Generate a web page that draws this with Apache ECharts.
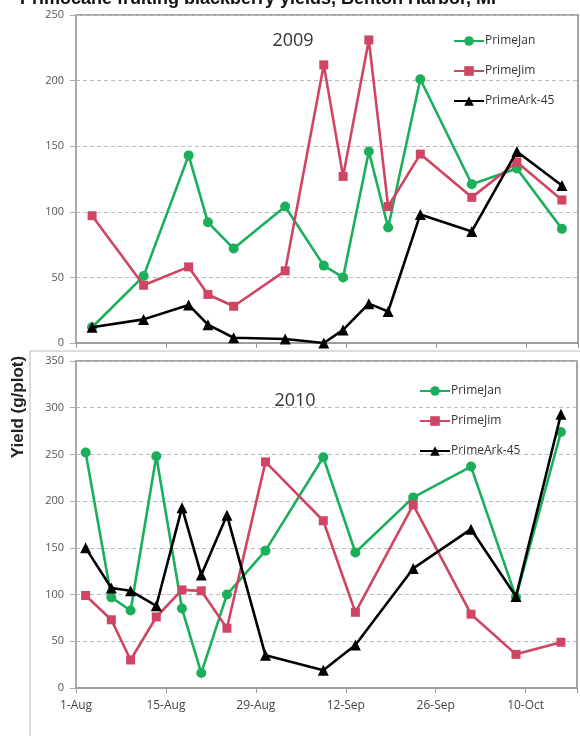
<!DOCTYPE html>
<html><head><meta charset="utf-8">
<script src="https://cdn.jsdelivr.net/npm/echarts@6/dist/echarts.min.js"></script>
<style>html,body{margin:0;padding:0;background:#fff;}#c{width:580px;height:736px;}</style>
</head><body><div id="c"></div>
<script>
const seriesNames = ['PrimeJan', 'PrimeJim', 'PrimeArk-45'];
const xTickLabels = ['1-Aug', '15-Aug', '29-Aug', '12-Sep', '26-Sep', '10-Oct'];
const yearLabels = ['2009', '2010'];

const dates2009 = ['Aug 3','Aug 11','Aug 18','Aug 21','Aug 25','Sep 2','Sep 8','Sep 11','Sep 15','Sep 18','Sep 23','Oct 1','Oct 8','Oct 15'];
const primeJan2009 = [12, 51, 143, 92, 72, 104, 59, 50, 146, 88, 201, 121, 133, 87];
const primeJim2009 = [97, 44, 58, 37, 28, 55, 212, 127, 231, 104, 144, 111, 138, 109];
const primeArk2009 = [12, 18, 29, 14, 4, 3, 0, 10, 30, 24, 98, 85, 146, 120];

const dates2010 = ['Aug 2','Aug 6','Aug 9','Aug 13','Aug 17','Aug 20','Aug 24','Aug 30','Sep 8','Sep 13','Sep 22','Oct 1','Oct 8','Oct 15'];
const primeJan2010 = [252, 97, 83, 248, 85, 16, 100, 147, 247, 145, 204, 237, 97, 274];
const primeJim2010 = [99, 73, 30, 76, 105, 104, 64, 242, 179, 81, 196, 79, 36, 49];
const primeArk2010 = [150, 107, 104, 88, 193, 121, 185, 35, 19, 46, 128, 170, 98, 293];

const MONTHS = {Aug: 7, Sep: 8, Oct: 9};
function dayPos(s) {
  const [m, d] = s.split(' ');
  const t = Date.UTC(2001, MONTHS[m], +d);
  const t0 = Date.UTC(2001, 7, 1);
  return (t - t0) / 864e5 + 0.5; // centre of the day slot
}
function pairs(dates, vals) { return dates.map((d, i) => [dayPos(d), vals[i]]); }

const COLORS = ['#1bae5b', '#cf4563', '#000000'];
const SYMBOLS = ['circle', 'rect', 'triangle'];
const SIZES = [10, 9, 11];
const FONT = 'Open Sans';

function mkSeries(idx, data, gi) {
  return {
    name: seriesNames[idx], type: 'line', xAxisIndex: gi, yAxisIndex: gi,
    data: data, symbol: SYMBOLS[idx], symbolSize: SIZES[idx],
    lineStyle: {color: COLORS[idx], width: 2.6},
    itemStyle: {color: COLORS[idx]},
    showAllSymbol: true, animation: false, z: 3 + idx
  };
}

function xAxis(gi, showLabels) {
  return {
    type: 'value', gridIndex: gi, min: 0, max: 78, interval: 14,
    axisLine: {show: true, lineStyle: {color: '#999', width: 1.5}},
    axisTick: {show: true, length: 5, lineStyle: {color: '#999'}},
    splitLine: {show: false},
    axisLabel: {show: showLabels, color: '#444', fontSize: 12, fontFamily: FONT, margin: 12,
      formatter: v => xTickLabels[Math.round(v / 14)] || ''}
  };
}
function yAxis(gi, max) {
  return {
    type: 'value', gridIndex: gi, min: 0, max: max, interval: 50,
    axisLine: {show: true, lineStyle: {color: '#aaa', width: 1.5}},
    axisTick: {show: true, inside: false, length: 6, lineStyle: {color: '#aaa'}},
    splitLine: {show: true, lineStyle: {color: '#bbb', type: [4, 3], width: 1}},
    axisLabel: {color: '#555', fontSize: 11, fontFamily: FONT, margin: 12}
  };
}
function legend(left, top) {
  return {
    left: left, top: top, orient: 'vertical', itemGap: 18, itemWidth: 30, itemHeight: 12,
    data: seriesNames.slice(),
    textStyle: {color: '#333', fontSize: 12, fontFamily: FONT, padding: [0, 0, 0, -4]},
    selectedMode: false
  };
}

const chart = echarts.init(document.getElementById('c'), null, {renderer: 'canvas'});
chart.setOption({
  animation: false,
  backgroundColor: '#fff',
  grid: [
    {left: 76, right: 2, top: 15, height: 328, show: true, borderColor: '#888', borderWidth: 1.5, backgroundColor: 'transparent'},
    {left: 76, right: 2, top: 361, height: 327, show: true, borderColor: '#888', borderWidth: 1.5, backgroundColor: 'transparent'}
  ],
  xAxis: [xAxis(0, false), xAxis(1, true)],
  yAxis: [yAxis(0, 250), yAxis(1, 350)],
  legend: [legend(448, 30), legend(414, 380)],
  series: [
    mkSeries(0, pairs(dates2009, primeJan2009), 0),
    mkSeries(1, pairs(dates2009, primeJim2009), 0),
    mkSeries(2, pairs(dates2009, primeArk2009), 0),
    mkSeries(0, pairs(dates2010, primeJan2010), 1),
    mkSeries(1, pairs(dates2010, primeJim2010), 1),
    mkSeries(2, pairs(dates2010, primeArk2010), 1)
  ],
  graphic: [
    {type: 'text', left: 20, top: -10, style: {text: 'Primocane fruiting blackberry yields, Benton Harbor, MI', font: 'bold 18px "Liberation Sans"', fill: '#111'}},
    {type: 'text', x: 293, y: 41, style: {text: yearLabels[0], font: '18px "Open Sans"', fill: '#333', align: 'center', verticalAlign: 'middle'}},
    {type: 'text', x: 295, y: 401, style: {text: yearLabels[1], font: '18px "Open Sans"', fill: '#333', align: 'center', verticalAlign: 'middle'}},
    {type: 'line', shape: {x1: 30, y1: 351, x2: 580, y2: 351}, style: {stroke: '#bbb', lineWidth: 1}},
    {type: 'line', shape: {x1: 30, y1: 351, x2: 30, y2: 736}, style: {stroke: '#bbb', lineWidth: 1}},
    {type: 'text', x: 18, y: 407, rotation: Math.PI / 2, style: {text: 'Yield (g/plot)', font: 'bold 17px "Liberation Sans"', fill: '#222', align: 'center', verticalAlign: 'middle'}}
  ]
});
</script></body></html>
